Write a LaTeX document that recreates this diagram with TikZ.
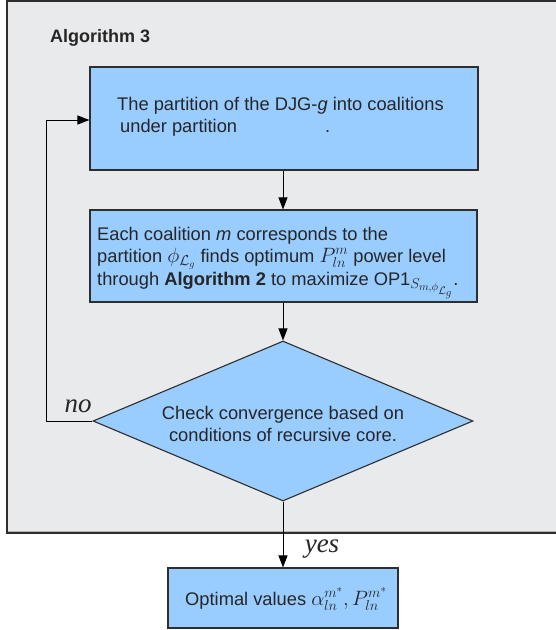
\documentclass[tikz,border=0pt]{standalone}
\usepackage{fontspec}
\setmainfont{Liberation Sans}
\newfontfamily\serifit{Liberation Serif}
\usetikzlibrary{shapes.geometric,arrows.meta}
\definecolor{boxblue}{HTML}{99CCFF}
\definecolor{framegray}{HTML}{E9EAEC}
\definecolor{edgegray}{HTML}{2E2E2E}
\newcommand\mymath[2]{{\fontsize{#1}{22}\selectfont$#2$}}
\begin{document}
\begin{tikzpicture}[x=1pt,y=-1pt,
  every node/.style={font=\fontsize{18.3}{22.5}\selectfont, text=black!85, inner sep=0pt},
  box/.style={draw=edgegray, line width=1.1pt, fill=boxblue, inner sep=0pt},
  conn/.style={draw=black, line width=1pt},
  arr/.style={conn, -{Triangle[length=12pt,width=9pt]}},
  lab/.style={font=\fontsize{27}{30}\selectfont\serifit\itshape, text=black!85}]
\useasboundingbox (0,0) rectangle (556,630);
\clip (0,0) rectangle (556,630);
% outer frame
\draw[edgegray, line width=1.5pt, fill=framegray] (7,1) rectangle (570,533);
\draw[gray!60, line width=0.8pt] (8,531.5) -- (570,531.5);
\node[anchor=base west, font=\fontsize{18}{22}\selectfont\bfseries] (title) at (50,42) {Algorithm 3};
% boxes
\node[box, minimum width=388pt, minimum height=103pt] (b1) at (284,118.5) {};
\node[anchor=base west] (t1a) at (117,110) {The partition of the DJG-\textit{g} into coalitions};
\node[anchor=base west] (t1b) at (120,132) {under partition\hspace{88pt}.};
\node[box, minimum width=387pt, minimum height=92pt] (b2) at (283.5,256) {};
\node[anchor=base west, align=left] (t2) at (97,285)
  {Each coalition \textit{m} corresponds to the\\
   partition \mymath{20}{\phi_{\mathcal{L}_g}} finds optimum \mymath{22}{P_{ln}^{m}} power level\\
   through \textbf{Algorithm 2} to maximize OP1\mymath{21}{_{S_{m,\phi_{\mathcal{L}_g}}}}.};
\node[diamond, draw=edgegray, line width=1.1pt, fill=boxblue, inner sep=0pt,
  aspect=2.375, minimum width=380pt, minimum height=160pt] (dia) at (283,421) {};
\node[align=center] (td) at (283,424) {Check convergence based on\\conditions of recursive core.};
\node[box, minimum width=230pt, minimum height=60pt] (b3) at (283,598) {};
\node[anchor=base west] (t3) at (185,605) {Optimal values \mymath{21.5}{\alpha_{ln}^{m^*}, P_{ln}^{m^*}}};
% connectors
\coordinate (c1) at (46,421);
\coordinate (c2) at (46,120);
\draw[arr] (b1.south -| dia.north) -- (b2.north -| dia.north);
\draw[arr] (b2.south -| dia.north) -- (dia.north);
\draw[arr] (dia.west) -- (c1) -- (c2) -- (c2 -| b1.west);
\draw[arr] (dia.south) -- (b3.north -| dia.south);
\node[lab, anchor=base] (no) at (78,412) {no};
\node[lab, anchor=base] (yes) at (322,552) {yes};
\end{tikzpicture}
\end{document}
